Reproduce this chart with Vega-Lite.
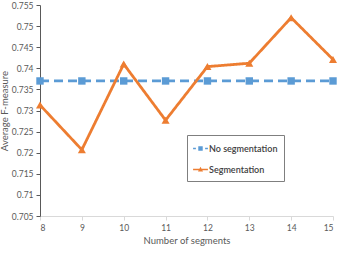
{
  "$schema": "https://vega.github.io/schema/vega-lite/v6.json",
  "width": 293,
  "height": 211,
  "autosize": {"type": "none"},
  "padding": {"left": 40, "top": 5, "right": 8, "bottom": 40},
  "background": "white",
  "config": {
    "view": {"stroke": null},
    "font": "Lato",
    "axis": {"labelFont": "Lato", "titleFont": "Lato", "labelColor": "#595959", "titleColor": "#595959", "labelFontSize": 8.5, "titleFontSize": 9.5, "titleFontWeight": "normal", "grid": false}
  },
  "data": {"values": [
    {"n": 8, "series": "No segmentation", "v": 0.737},
    {"n": 9, "series": "No segmentation", "v": 0.737},
    {"n": 10, "series": "No segmentation", "v": 0.737},
    {"n": 11, "series": "No segmentation", "v": 0.737},
    {"n": 12, "series": "No segmentation", "v": 0.737},
    {"n": 13, "series": "No segmentation", "v": 0.737},
    {"n": 14, "series": "No segmentation", "v": 0.737},
    {"n": 15, "series": "No segmentation", "v": 0.737},
    {"n": 8, "series": "Segmentation", "v": 0.7313},
    {"n": 9, "series": "Segmentation", "v": 0.7207},
    {"n": 10, "series": "Segmentation", "v": 0.741},
    {"n": 11, "series": "Segmentation", "v": 0.7277},
    {"n": 12, "series": "Segmentation", "v": 0.7404},
    {"n": 13, "series": "Segmentation", "v": 0.7412},
    {"n": 14, "series": "Segmentation", "v": 0.752},
    {"n": 15, "series": "Segmentation", "v": 0.7421}
  ]},
  "encoding": {
    "x": {"field": "n", "type": "quantitative", "title": "Number of segments",
      "scale": {"domain": [8, 15], "nice": false, "zero": false},
      "axis": {"values": [8, 9, 10, 11, 12, 13, 14, 15], "format": "d", "domainColor": "#d9d9d9", "tickColor": "#d9d9d9", "tickSize": 4, "labelPadding": 3, "titlePadding": 4}},
    "y": {"field": "v", "type": "quantitative", "title": "Average F-measure",
      "scale": {"domain": [0.705, 0.755], "nice": false, "zero": false},
      "axis": {"values": [0.705, 0.71, 0.715, 0.72, 0.725, 0.73, 0.735, 0.74, 0.745, 0.75, 0.755], "format": ".3~f", "domainColor": "#595959", "tickColor": "#595959", "tickSize": 4, "labelPadding": 3, "titlePadding": 2}},
    "color": {"field": "series", "type": "nominal",
      "scale": {"domain": ["No segmentation", "Segmentation"], "range": ["#5B9BD5", "#ED7D31"]},
      "legend": {"title": null, "orient": "none", "legendX": 147, "legendY": 130, "strokeColor": "#7f7f7f", "padding": 6, "labelFont": "Lato", "labelFontSize": 9, "labelFontWeight": 600, "labelColor": "#404040", "symbolType": "square", "symbolSize": 220, "symbolStrokeWidth": 0, "labelOffset": 1, "rowPadding": 8, "labelLimit": 200,
        "encode": {"symbols": {"update": {"shape": {"signal": "datum.value === 'Segmentation' ? 'M-1,-0.1 L1,-0.1 L1,0.1 L-1,0.1 Z M0,-0.38 L0.34,0.26 L-0.34,0.26 Z' : 'M-1,-0.1 L-0.62,-0.1 L-0.62,0.1 L-1,0.1 Z M0.62,-0.1 L1,-0.1 L1,0.1 L0.62,0.1 Z M-0.3,-0.3 L0.3,-0.3 L0.3,0.3 L-0.3,0.3 Z'"}, "strokeWidth": {"value": 0}, "fillOpacity": {"value": 1}}}}}}
  },
  "layer": [
    {"mark": {"type": "line", "strokeWidth": 2.8},
     "encoding": {"strokeDash": {"field": "series", "type": "nominal", "scale": {"domain": ["No segmentation", "Segmentation"], "range": [[9, 5], [1, 0]]}, "legend": null}}},
    {"transform": [{"filter": "datum.series === 'No segmentation'"}],
     "mark": {"type": "point", "shape": "square", "filled": true, "opacity": 1, "size": 55}},
    {"transform": [{"filter": "datum.series === 'Segmentation'"}],
     "mark": {"type": "point", "shape": "triangle-up", "filled": true, "opacity": 1, "size": 65}}
  ]
}
